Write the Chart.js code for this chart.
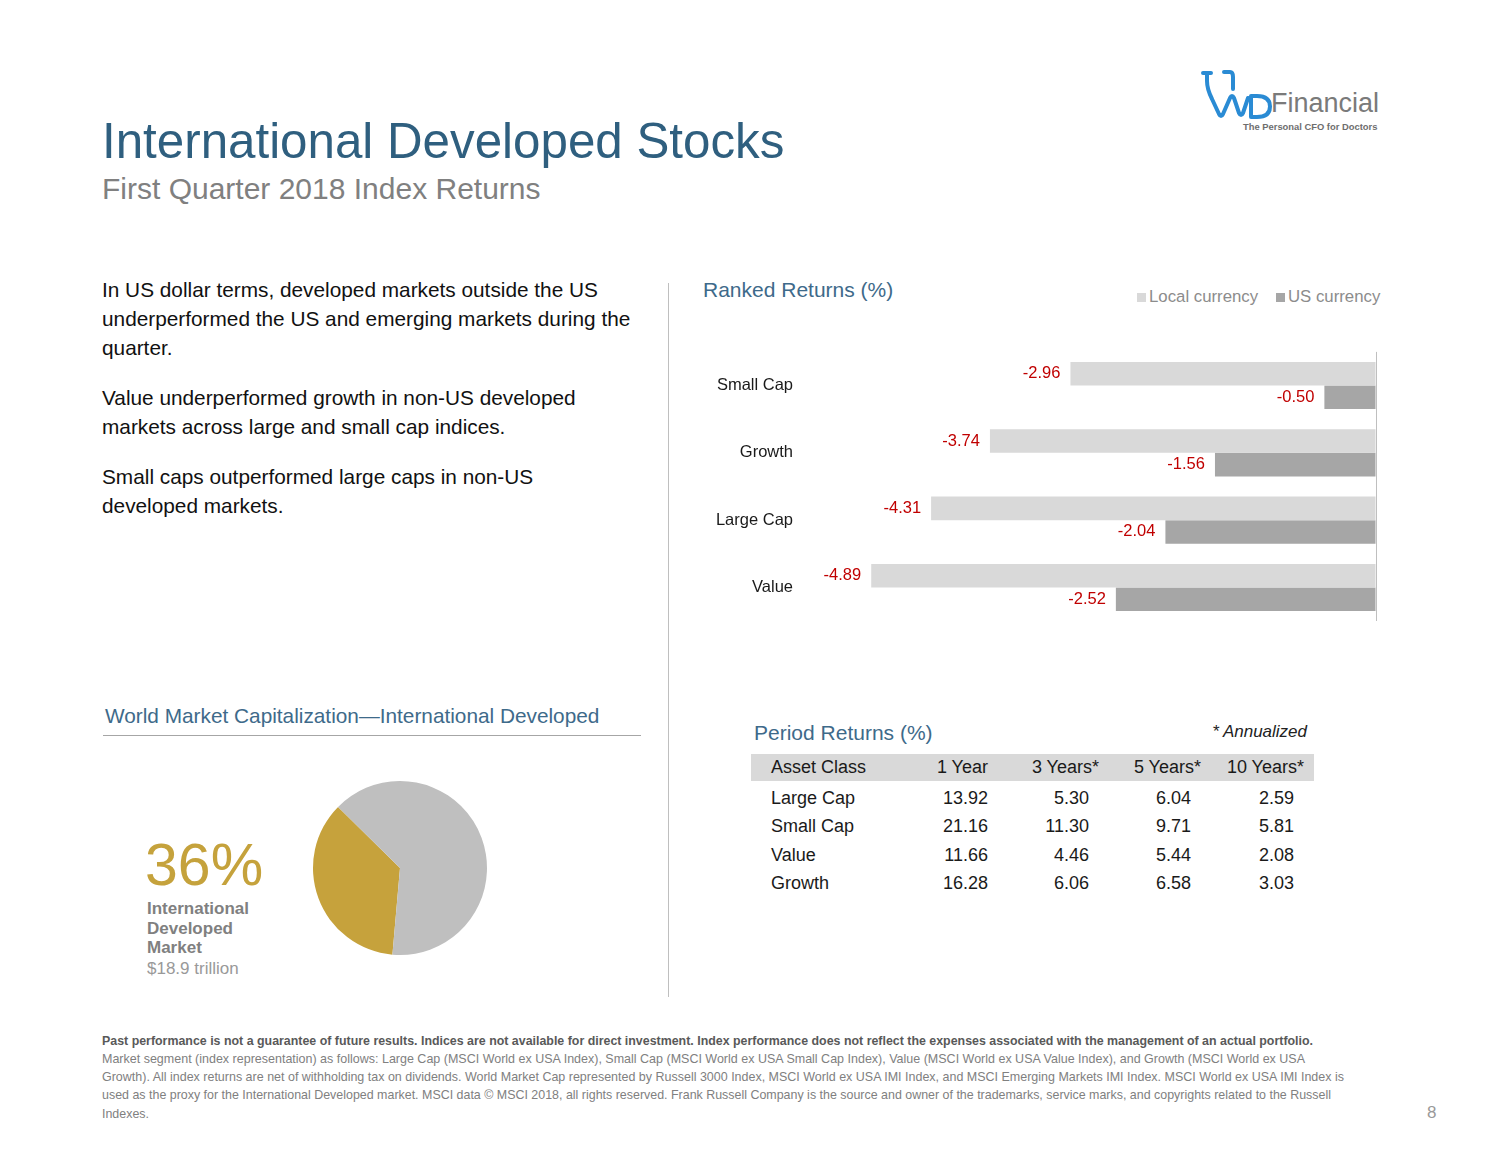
<!DOCTYPE html>
<html>
<head>
<meta charset="utf-8">
<script src="https://cdn.jsdelivr.net/npm/chart.js@4.4.1/dist/chart.umd.min.js"></script>
<style>
  html, body { margin: 0; padding: 0; background: #fff; }
  body { width: 1500px; height: 1159px; position: relative; overflow: hidden;
         font-family: "Liberation Sans", Arial, sans-serif; }
  .t { position: absolute; white-space: nowrap; line-height: 1; }
  .blue { color: #3e6a8a; }
  .foot { position: absolute; left: 102px; white-space: nowrap; font-size: 13.5px; line-height: 18px;
          color: #808080; transform-origin: left center; font-family: "Liberation Sans Narrow", "Liberation Sans", Arial, sans-serif; }
  canvas { position: absolute; }
</style>
</head>
<body>

<!-- logo -->
<svg style="position:absolute;left:1195px;top:65px" width="200" height="70">
  <g fill="none" stroke="#2a8bd4" stroke-width="4" stroke-linecap="round" stroke-linejoin="round">
    <path d="M8,8 L16,8 M12,8 L12,16 Q12,24 17,34 L24,49 Q26,53 28,49 L35,33 Q37,29 39,33 L44,48 Q46,52 48,48 L53,33"/>
    <path d="M29,7 L35,7 Q38,7 38,12 L38,24"/>
    <path d="M56,31 L56,52 L62,52 Q75,52 75,41.5 Q75,31 62,31 Z"/>
  </g>
</svg>
<div class="t" style="left:1271px;top:89.5px;font-size:27px;color:#7a7a7a;">Financial</div>
<div class="t" style="left:1243px;top:121.5px;font-size:9.4px;font-weight:bold;color:#6e6e6e;">The Personal CFO for Doctors</div>

<!-- titles -->
<div class="t" style="left:102px;top:115.5px;font-size:49.3px;color:#2f5f7f;">International Developed Stocks</div>
<div class="t" style="left:102px;top:174px;font-size:30px;color:#808080;">First Quarter 2018 Index Returns</div>

<!-- left text -->
<div class="t" style="left:102px;top:274.5px;font-size:20.8px;line-height:29px;color:#111;">In US dollar terms, developed markets outside the US<br>underperformed the US and emerging markets during the<br>quarter.</div>
<div class="t" style="left:102px;top:382.5px;font-size:20.8px;line-height:29px;color:#111;">Value underperformed growth in non-US developed<br>markets across large and small cap indices.</div>
<div class="t" style="left:102px;top:461.5px;font-size:20.8px;line-height:29px;color:#111;">Small caps outperformed large caps in non-US<br>developed markets.</div>

<!-- divider -->
<div style="position:absolute;left:668px;top:283px;width:1px;height:714px;background:#bfbfbf;"></div>

<!-- bar chart -->
<div class="t blue" style="left:703px;top:278.5px;font-size:21px;">Ranked Returns (%)</div>
<div style="position:absolute;left:1137px;top:293px;width:9px;height:9px;background:#d9d9d9;"></div>
<div class="t" style="left:1149px;top:289px;font-size:16.8px;color:#8c8c8c;">Local currency</div>
<div style="position:absolute;left:1276px;top:293px;width:9px;height:9px;background:#a6a6a6;"></div>
<div class="t" style="left:1288px;top:289px;font-size:16.8px;color:#8c8c8c;">US currency</div>
<canvas id="barChart" width="680" height="303" style="left:700px;top:335px;"></canvas>

<!-- pie -->
<div class="t blue" style="left:105px;top:705.5px;font-size:20.8px;">World Market Capitalization—International Developed</div>
<div style="position:absolute;left:103px;top:735px;width:538px;height:1px;background:#a6a6a6;"></div>
<div class="t" style="left:145px;top:835.5px;font-size:59px;color:#c5a23c;">36%</div>
<div class="t" style="left:147px;top:899px;font-size:17px;line-height:19.5px;font-weight:bold;color:#808080;">International<br>Developed<br>Market</div>
<div class="t" style="left:147px;top:959.5px;font-size:17px;color:#999;">$18.9 trillion</div>
<canvas id="pieChart" width="200" height="200" style="left:300px;top:768px;"></canvas>

<!-- table -->
<div class="t blue" style="left:754px;top:721.5px;font-size:21px;">Period Returns (%)</div>
<div class="t" style="left:1150px;top:722.5px;width:157px;text-align:right;font-size:17px;font-style:italic;color:#222;">* Annualized</div>
<div style="position:absolute;left:751px;top:754px;width:563px;height:27px;background:#d9d9d9;"></div>
<div id="table"></div>

<!-- footer -->
<div class="foot" id="f1" style="top:1032px;font-weight:bold;color:#595959;">Past performance is not a guarantee of future results. Indices are not available for direct investment. Index performance does not reflect the expenses associated with the management of an actual portfolio.</div>
<div class="foot" id="f2" style="top:1050px;">Market segment (index representation) as follows: Large Cap (MSCI World ex USA Index), Small Cap (MSCI World ex USA Small Cap Index), Value (MSCI World ex USA Value Index), and Growth (MSCI World ex USA</div>
<div class="foot" id="f3" style="top:1068px;">Growth). All index returns are net of withholding tax on dividends. World Market Cap represented by Russell 3000 Index, MSCI World ex USA IMI Index, and MSCI Emerging Markets IMI Index. MSCI World ex USA IMI Index is</div>
<div class="foot" id="f4" style="top:1086px;">used as the proxy for the International Developed market. MSCI data © MSCI 2018, all rights reserved. Frank Russell Company is the source and owner of the trademarks, service marks, and copyrights related to the Russell</div>
<div class="foot" id="f5" style="top:1105px;">Indexes.</div>
<div class="t" style="left:1427px;top:1103.5px;font-size:17px;color:#999;">8</div>

<script>
// ranked returns
const categories = ['Small Cap', 'Growth', 'Large Cap', 'Value'];
const localCurrency = [-2.96, -3.74, -4.31, -4.89];
const usCurrency = [-0.50, -1.56, -2.04, -2.52];

// world market cap
const pieLabels = ['International Developed', 'Rest of World'];
const pieValues = [36, 64];

// period returns
const periodHeaders = ['Asset Class', '1 Year', '3 Years*', '5 Years*', '10 Years*'];
const assetClasses = ['Large Cap', 'Small Cap', 'Value', 'Growth'];
const oneYear = ['13.92', '21.16', '11.66', '16.28'];
const threeYears = ['5.30', '11.30', '4.46', '6.06'];
const fiveYears = ['6.04', '9.71', '5.44', '6.58'];
const tenYears = ['2.59', '5.81', '2.08', '3.03'];

const barLabels = {
  id: 'barLabels',
  afterDatasetsDraw(chart) {
    const ctx = chart.ctx;
    ctx.save();
    ctx.font = '16.5px "Liberation Sans", Arial, sans-serif';
    ctx.fillStyle = '#c00000';
    ctx.textAlign = 'right';
    ctx.textBaseline = 'middle';
    chart.data.datasets.forEach((ds, i) => {
      chart.getDatasetMeta(i).data.forEach((bar, j) => {
        ctx.fillText(ds.data[j].toFixed(2), bar.x - 10, bar.y);
      });
    });
    ctx.restore();
  }
};

new Chart(document.getElementById('barChart'), {
  type: 'bar',
  data: {
    labels: categories,
    datasets: [
      { label: 'Local currency', data: localCurrency, backgroundColor: '#d9d9d9' },
      { label: 'US currency', data: usCurrency, backgroundColor: '#a6a6a6' }
    ]
  },
  options: {
    indexAxis: 'y',
    responsive: false,
    animation: false,
    categoryPercentage: 0.7,
    barPercentage: 1.0,
    layout: { padding: { top: 7, bottom: 10, right: 4, left: 0 } },
    plugins: { legend: { display: false }, tooltip: { enabled: false } },
    scales: {
      x: {
        min: -5.58, max: 0,
        ticks: { display: false },
        border: { display: false },
        grid: {
          drawTicks: false,
          color: c => (c.tick && c.tick.value === 0) ? '#bfbfbf' : 'transparent'
        }
      },
      y: {
        grid: { display: false, drawTicks: false },
        border: { display: false },
        ticks: { color: '#1a1a1a', padding: 7, font: { size: 16.5, family: '"Liberation Sans", Arial, sans-serif' } },
        afterFit: s => { s.width = 100; }
      }
    }
  },
  plugins: [barLabels]
});

new Chart(document.getElementById('pieChart'), {
  type: 'pie',
  data: {
    labels: pieLabels,
    datasets: [{ data: pieValues, backgroundColor: ['#c6a23c', '#bfbfbf'], borderWidth: 0 }]
  },
  options: {
    responsive: false,
    animation: false,
    rotation: 185,
    layout: { padding: 13 },
    plugins: { legend: { display: false }, tooltip: { enabled: false } }
  }
});

// table cells
const tbl = document.getElementById('table');
function cell(text, x, center, align) {
  const d = document.createElement('div');
  d.className = 't';
  d.style.fontSize = '18px';
  d.style.color = '#1a1a1a';
  d.style.top = (center - 9) + 'px';
  if (align === 'right') {
    d.style.left = (x - 200) + 'px';
    d.style.width = '200px';
    d.style.textAlign = 'right';
  } else {
    d.style.left = x + 'px';
  }
  d.textContent = text;
  tbl.appendChild(d);
}
const headRight = [988, 1099, 1201, 1304];
const valRight = [988, 1089, 1191, 1294];
const rowCenters = [798, 826, 855, 883];
cell(periodHeaders[0], 771, 767, 'left');
for (let i = 1; i < periodHeaders.length; i++) cell(periodHeaders[i], headRight[i - 1], 767, 'right');
const cols = [oneYear, threeYears, fiveYears, tenYears];
for (let r = 0; r < assetClasses.length; r++) {
  cell(assetClasses[r], 771, rowCenters[r], 'left');
  for (let c = 0; c < cols.length; c++) cell(cols[c][r], valRight[c], rowCenters[r], 'right');
}

// squeeze footer lines to the widths in the slide
const footWidths = { f1: 1211, f2: 1203, f3: 1242, f4: 1229 };
let lastScale = 1;
for (const id in footWidths) {
  const el = document.getElementById(id);
  lastScale = footWidths[id] / el.getBoundingClientRect().width;
  el.style.transform = 'scaleX(' + lastScale + ')';
}
document.getElementById('f5').style.transform = 'scaleX(' + lastScale + ')';
</script>
</body>
</html>
